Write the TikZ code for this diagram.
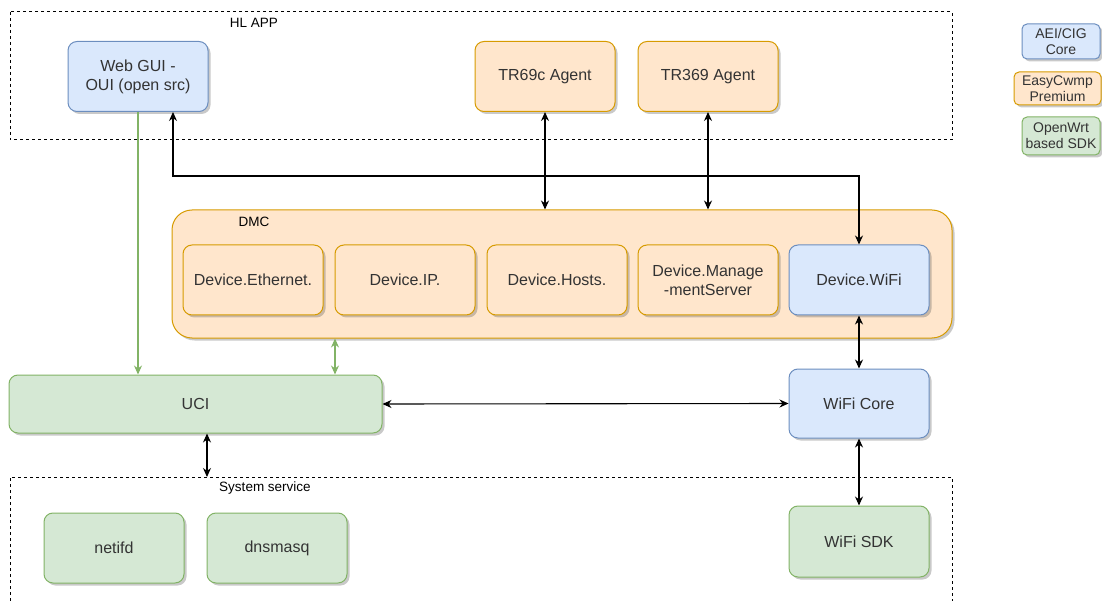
\documentclass[tikz,border=0pt]{standalone}
\usepackage{fontspec}
\setmainfont{Liberation Sans}
\usetikzlibrary{arrows.meta}
\usetikzlibrary{shadows}
\definecolor{coreFill}{HTML}{DAE8FC}
\definecolor{coreLine}{HTML}{6C8EBF}
\definecolor{cwmpFill}{HTML}{FFE6CC}
\definecolor{cwmpLine}{HTML}{D79B00}
\definecolor{sdkFill}{HTML}{D5E8D4}
\definecolor{sdkLine}{HTML}{82B366}
\definecolor{textGrey}{HTML}{333333}
\tikzstyle{block}=[draw, line width=1pt, rounded corners=9pt, align=center,
  text=textGrey, font=\fontsize{16}{19}\selectfont, inner sep=2pt,
  minimum width=140pt, minimum height=70pt,
  drop shadow={shadow xshift=2.5pt, shadow yshift=-2.5pt, opacity=0.3, fill=black!70}]
\tikzstyle{coreblock}=[block, fill=coreFill, draw=coreLine]
\tikzstyle{cwmpblock}=[block, fill=cwmpFill, draw=cwmpLine]
\tikzstyle{sdkblock}=[block, fill=sdkFill, draw=sdkLine]
\tikzstyle{legend}=[font=\fontsize{14}{16}\selectfont, minimum width=78pt,
  inner sep=1pt, rounded corners=5pt, drop shadow={opacity=0}]
\tikzstyle{caption}=[text=black, font=\fontsize{13.5}{16}\selectfont, inner sep=0pt]
\tikzstyle{group}=[line width=1pt, dash pattern=on 3pt off 3pt]
\tikzstyle{link}=[line width=1.1pt, {Stealth[length=9pt,width=8pt]}-{Stealth[length=9pt,width=8pt]}]
\tikzstyle{greenlink}=[line width=1.1pt, draw=sdkLine, -{Stealth[length=9pt,width=8pt]}]
\tikzstyle{greenboth}=[line width=1.1pt, draw=sdkLine, {Stealth[length=9pt,width=8pt]}-{Stealth[length=9pt,width=8pt]}]

\begin{document}
\begin{tikzpicture}[x=1pt, y=-1pt]
  \useasboundingbox (0,0) rectangle (1102,601);

  % top row
  \draw[group] (10,12) rectangle (952,140);
  \node[caption] (hlapp) at (254,23) {HL APP};
  \node[coreblock] (webgui) at (138,76.5) {Web GUI -\\OUI (open src)};
  \node[cwmpblock] (tr69) at (545,76.5) {TR69c Agent};
  \node[cwmpblock] (tr369) at (708,76.5) {TR369 Agent};

  % legend
  \node[coreblock, legend, minimum height=35pt] (keycore) at (1061,41.5) {AEI/CIG\\Core};
  \node[cwmpblock, legend, minimum width=87pt, minimum height=33pt] (keycwmp) at (1057.5,88.5) {EasyCwmp\\Premium};
  \node[sdkblock, legend, minimum height=38pt] (keysdk) at (1061,136) {OpenWrt\\based SDK};

  % data model
  \node[cwmpblock, rounded corners=20pt, minimum width=780pt, minimum height=128pt] (dmc) at (562,274) {};
  \node[caption] (dmclabel) at (254,222) {DMC};
  \node[cwmpblock] (ethernet) at (253,280) {Device.Ethernet.};
  \node[cwmpblock] (ip) at (405,280) {Device.IP.};
  \node[cwmpblock] (hosts) at (557,280) {Device.Hosts.};
  \node[cwmpblock] (mgmt) at (708,280) {Device.Manage\\-mentServer};
  \node[coreblock] (devwifi) at (859,280) {Device.WiFi};

  % middle row
  \node[sdkblock, minimum width=373pt, minimum height=58pt] (uci) at (195.5,404) {UCI};
  \node[coreblock, minimum height=69pt] (wificore) at (859,403.5) {WiFi Core};

  % bottom row
  \draw[group] (10,601) -- (10,477) -- (952,477) -- (952,601);
  \node[caption] (syslabel) at (265,488) {System service};
  \node[sdkblock] (netifd) at (114,548) {netifd};
  \node[sdkblock] (dnsmasq) at (277,548) {dnsmasq};
  \node[sdkblock, minimum height=71pt] (wifisdk) at (859,541.5) {WiFi SDK};

  % connectors
  \coordinate (dmcport) at ([xshift=-227pt]dmc.south);
  \coordinate (sysport) at (207,477);
  \draw[greenlink] (webgui.south) -- (webgui.south |- uci.north);
  \draw[link] ([xshift=35pt]webgui.south) -- ++(0,64) -| (devwifi.north);
  \draw[link] (tr69.south) -- (tr69.south |- dmc.north);
  \draw[link] (tr369.south) -- (tr369.south |- dmc.north);
  \draw[greenboth] (dmcport) -- (dmcport |- uci.north);
  \draw[link] (devwifi.south) -- (wificore.north);
  \draw[link] (uci.east) -- (wificore.west);
  \draw[link] (sysport |- uci.south) -- (sysport);
  \draw[link] (wificore.south) -- (wifisdk.north);
\end{tikzpicture}
\end{document}
